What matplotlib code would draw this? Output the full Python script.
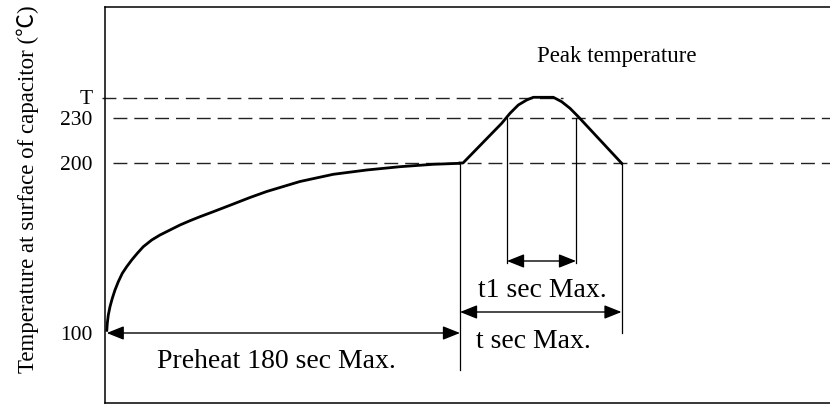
import matplotlib
matplotlib.use("Agg")
import matplotlib.pyplot as plt

# ---- schematic data (diagram units: x ~ time, y ~ temperature height) ----
preheat_x = [1.7, 2.3, 3.3, 5, 7.3, 10, 13.3, 17.3, 21.7, 26.7, 32.3, 38.3, 46.7,
             55, 65, 75, 85, 95, 108.3, 128.3, 145, 161.7, 195, 228.3, 261.7, 295,
             328.3, 355]
preheat_y = [71.3, 79.7, 88, 96.3, 104.7, 113, 121.3, 129.7, 136.3, 143, 149.7,
             156.3, 163, 168, 173, 178, 182.3, 186.3, 191.3, 199, 205.5, 211.5,
             221.5, 228.7, 233, 236.3, 238.7, 239.7]
reflow_x = [355, 358, 396.7, 405, 413.3, 421.7, 428.3, 448.3, 456.7, 465, 473.3, 516.7]
reflow_y = [240, 240, 279.7, 289.7, 298, 303, 305.7, 305.7, 301.3, 294.7, 286.3, 239.7]

level_labels = ["100", "200", "230", "T"]
level_y = [70, 240, 285, 305.5]

# dashed reference lines
dash_y = [305.5, 285, 240]
dash_x0 = [-3, 8, 8]
dash_x1 = [458, 725, 725]

# vertical marker lines
vline_x = [355, 402, 471, 516.5]
vline_top = [240, 285, 285, 240]
vline_bot = [33, 140, 140, 70]

# dimension arrows
arrow_x1 = [1.7, 355, 402]
arrow_x2 = [355, 516.5, 471]
arrow_y = [70, 91, 142]

texts = ["Preheat 180 sec Max.", "t sec Max.", "t1 sec Max.", "Peak temperature"]
text_x = [171, 428.5, 437, 511.5]
text_y = [34.7, 55.3, 106.3, 341.3]
text_size = [20, 20, 20, 16.5]

ylabel = "Temperature at surface of capacitor (℃)"

serif = ["Liberation Serif", "Noto Sans CJK SC", "DejaVu Serif"]

W, H = 830, 405
fig = plt.figure(figsize=(W / 100, H / 100), dpi=100)
ax = fig.add_axes([105 / W, (H - 403) / H, (W - 105) / W, 396 / H])
ax.set_xlim(0, 725)
ax.set_ylim(0, 396)

for s in ["left", "top", "bottom"]:
    ax.spines[s].set_linewidth(1.1)
ax.spines["right"].set_visible(False)
ax.set_xticks([])
ax.set_yticks(level_y)
ax.set_yticklabels(level_labels, family=serif, fontsize=15.5)
ax.tick_params(axis="y", length=0, pad=9)

for y, x0, x1 in zip(dash_y, dash_x0, dash_x1):
    ax.plot([x0, x1], [y, y], color="#222222", lw=1.0, linestyle=(0, (10, 5)),
            clip_on=False, zorder=2)

ax.plot(preheat_x, preheat_y, color="black", lw=2.0, solid_joinstyle="round",
        solid_capstyle="butt", zorder=4)
ax.plot(reflow_x, reflow_y, color="black", lw=2.0, solid_joinstyle="round", zorder=4)

for x, yt, yb in zip(vline_x, vline_top, vline_bot):
    ax.plot([x, x], [yt, yb], color="black", lw=0.9, zorder=3)

for x1, x2, y in zip(arrow_x1, arrow_x2, arrow_y):
    ax.annotate("", xy=(x2, y), xytext=(x1, y),
                arrowprops=dict(arrowstyle="<|-|>,head_length=0.7,head_width=0.28",
                                mutation_scale=15, lw=1.0, color="black",
                                shrinkA=0, shrinkB=0), zorder=5)

for t, x, y, fs in zip(texts, text_x, text_y, text_size):
    ax.text(x, y, t, ha="center", va="baseline", fontsize=fs, family=serif)

fig.text(28 / W, 1 - 189.5 / H, ylabel, rotation=90, ha="center", va="center",
         fontsize=16.5, family=serif)

fig.savefig("out.png", dpi=100)
